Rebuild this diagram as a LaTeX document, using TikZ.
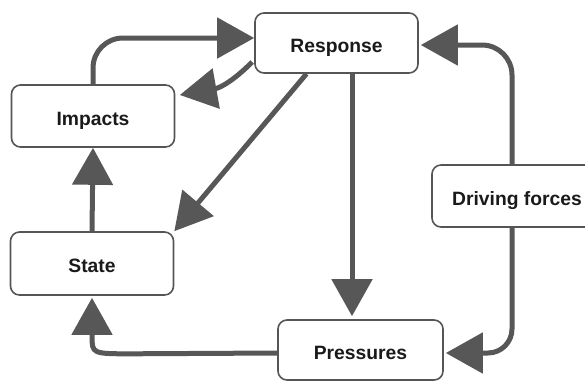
\documentclass[tikz,border=0pt]{standalone}
\usepackage{fontspec}
\setmainfont{Liberation Sans}
\usetikzlibrary{arrows.meta,calc}
\definecolor{arr}{HTML}{575757}
\definecolor{bord}{HTML}{555555}
\definecolor{txt}{HTML}{1A1A1A}
\begin{document}
\begin{tikzpicture}[x=1pt,y=-1pt,
 box/.style={draw=bord, line width=1.6pt, fill=white, rounded corners=9pt,
   minimum height=60pt, inner sep=0pt, text height=18pt, text depth=0pt,
   font=\fontsize{19.3}{22}\selectfont\bfseries, text=txt},
 conn/.style={draw=arr, line width=5pt, -{Triangle[length=37pt,width=40pt]}}]
\useasboundingbox (0,0) rectangle (585,381);
\node[box, minimum width=163pt] (res) at (336.5,43) {Response};
\node[box, minimum width=163pt, minimum height=62pt] (imp) at (93,116) {Impacts};
\node[box, minimum width=163pt, minimum height=63pt] (sta) at (92,263.5) {State};
\node[box, minimum width=165pt] (pre) at (360.5,350) {Pressures};
\node[box, minimum width=170pt, minimum height=62pt] (drv) at (517,196) {Driving forces};
% Impacts -> Response
\draw[conn, rounded corners=30pt] (imp.north) |- ([yshift=5pt]res.west);
% Response -> Impacts
\draw[conn] ([yshift=-19pt,xshift=-2pt]res.west) .. controls ($(res.west)+(-22,39)$) and ($(imp.east)+(44,-28)$) .. ([yshift=21pt,xshift=4.5pt]imp.east);
% Response -> State
\draw[conn] ($(res.south)+(-30,0)$) -- (sta.north east);
% Response -> Pressures
\draw[conn] ($(res.south)+(15.5,0)$) -- ($(pre.north)+(-8.5,-3)$);
% Driving forces -> Response
\draw[conn, rounded corners=30pt] ([xshift=-5pt]drv.north) |- ([yshift=-2pt,xshift=2pt]res.east);
% Driving forces -> Pressures
\draw[conn, rounded corners=24pt] ([xshift=-5pt]drv.south) |- ([yshift=-3pt,xshift=2pt]pre.east);
% Pressures -> State
\draw[conn] ([yshift=-3pt]pre.west) -- ($(sta.south)+(40,58)$) .. controls ($(sta.south)+(0,58)$) .. ($(sta.south)+(0,40)$) -- ($(sta.south)+(0,2)$);
% State -> Impacts
\draw[conn] (sta.north) -- (imp.south);
\end{tikzpicture}
\end{document}
